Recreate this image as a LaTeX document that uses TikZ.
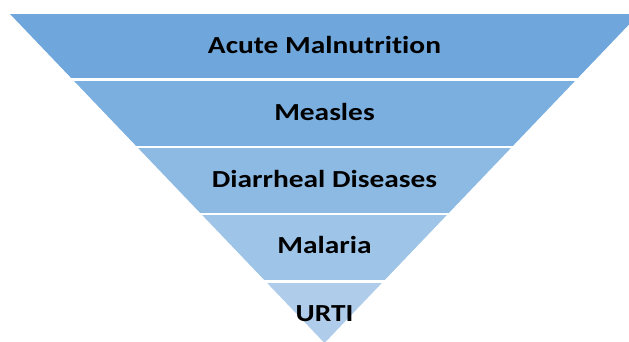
\documentclass[tikz,border=0pt]{standalone}
\usepackage{graphicx}
\usepackage{fontspec}
\setmainfont{Carlito}[RawFeature={-liga}]
\definecolor{bandA}{RGB}{111,166,219}
\definecolor{bandB}{RGB}{123,175,223}
\definecolor{bandC}{RGB}{141,186,227}
\definecolor{bandD}{RGB}{158,196,231}
\definecolor{bandE}{RGB}{175,205,235}
\newcommand{\hstretch}[1]{\scalebox{1.2}[1]{#1}}
\tikzset{
  label text/.style={anchor=base, font=\fontsize{24.5}{28}\selectfont\bfseries, text=black, inner sep=0pt},
  sep line/.style={white, line width=2.5pt}
}
\begin{document}
\begin{tikzpicture}[x=1pt,y=-1pt]
\useasboundingbox (0,0) rectangle (629,341);
% triangle: top (10,14)-(639,14), apex (324.5,343)
\pgfmathsetmacro{\s}{314.5/329}
\foreach \ya/\yb/\c in {14/79.5/bandA, 79.5/147/bandB, 147/214/bandC, 214/281.5/bandD, 281.5/343/bandE}{
  \pgfmathsetmacro{\la}{10+(\ya-14)*\s}
  \pgfmathsetmacro{\ra}{639-(\ya-14)*\s}
  \pgfmathsetmacro{\lb}{10+(\yb-14)*\s}
  \pgfmathsetmacro{\rb}{639-(\yb-14)*\s}
  \fill[\c] (\la,\ya) -- (\ra,\ya) -- (\rb,\yb) -- (\lb,\yb) -- cycle;
}
\foreach \y in {79.5,147,214,281.5}{
  \draw[sep line] (0,\y) -- (629,\y);
}
\node[label text] (acute) at (324.5,53.3) {\hstretch{Acute Malnutrition}};
\node[label text] (measles) at (324.5,120) {\hstretch{Measles}};
\node[label text] (diarrheal) at (324.5,187.3) {\hstretch{Diarrheal Diseases}};
\node[label text] (malaria) at (324.5,253.3) {\hstretch{Malaria}};
\node[label text] (urti) at (324.5,321) {\hstretch{URTI}};
\end{tikzpicture}
\end{document}
